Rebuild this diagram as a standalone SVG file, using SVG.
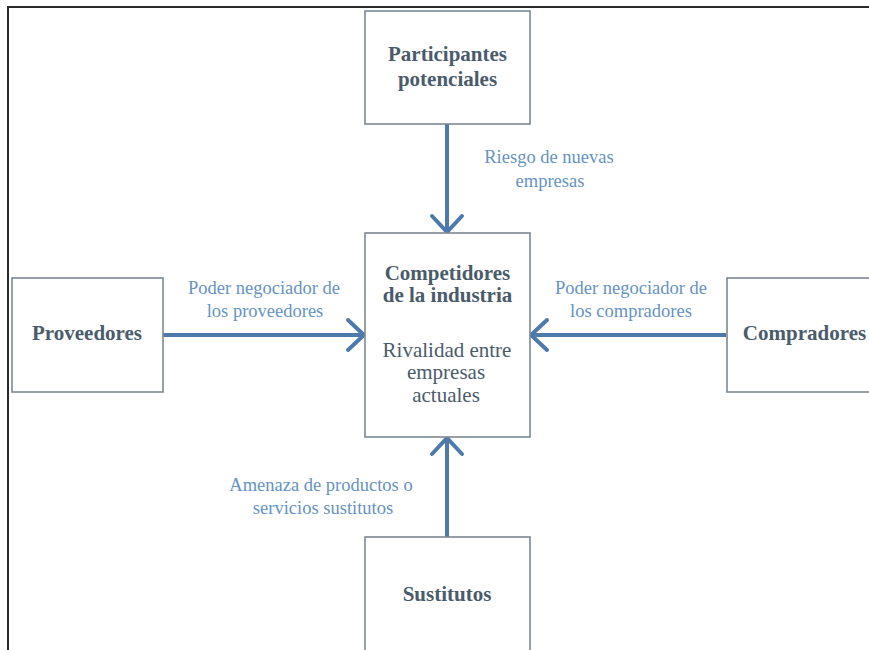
<svg xmlns="http://www.w3.org/2000/svg" width="869" height="650" viewBox="0 0 869 650">
  <style>
    .box { fill: #ffffff; stroke: #7d8894; stroke-width: 1.6; }
    .name { font-family: "Liberation Serif", "Times New Roman", serif; font-size: 21px; font-weight: bold; fill: #4a5b6c; text-anchor: middle; }
    .body { font-family: "Liberation Serif", "Times New Roman", serif; font-size: 21px; fill: #4a5b6c; text-anchor: middle; }
    .label { font-family: "Liberation Serif", "Times New Roman", serif; font-size: 18.5px; fill: #6593c4; text-anchor: middle; }
    .link { stroke: #4d7aab; stroke-width: 4; fill: none; }
    .head { stroke: #4d7aab; stroke-width: 4; fill: none; stroke-linecap: round; stroke-linejoin: miter; }
  </style>

  <rect width="869" height="650" fill="#ffffff"/>
  <!-- page frame -->
  <rect x="8" y="7" width="900" height="700" fill="none" stroke="#2a2a2a" stroke-width="2"/>

  <g id="connectors">
    <!-- Participantes potenciales -> Competidores -->
    <line class="link" x1="447" y1="124" x2="447" y2="230"/>
    <polyline class="head" points="432,216 447,232 462,216"/>
    <!-- Proveedores -> Competidores -->
    <line class="link" x1="163" y1="335" x2="363" y2="335"/>
    <polyline class="head" points="348,320 364,335 348,350"/>
    <!-- Compradores -> Competidores -->
    <line class="link" x1="726" y1="335" x2="532" y2="335"/>
    <polyline class="head" points="547,320 531,335 547,350"/>
    <!-- Sustitutos -> Competidores -->
    <line class="link" x1="447" y1="537" x2="447" y2="440"/>
    <polyline class="head" points="432,454 447,438 462,454"/>

    <text class="label" x="549" y="163">Riesgo de nuevas</text>
    <text class="label" x="550" y="187">empresas</text>

    <text class="label" x="264" y="294">Poder negociador de</text>
    <text class="label" x="265" y="317">los proveedores</text>

    <text class="label" x="631" y="294">Poder negociador de</text>
    <text class="label" x="631" y="317">los compradores</text>

    <text class="label" x="321" y="491">Amenaza de productos o</text>
    <text class="label" x="323" y="514">servicios sustitutos</text>
  </g>

  <g id="participantes">
    <rect class="box" x="365" y="11" width="165" height="113"/>
    <text class="name" x="447.5" y="61">Participantes</text>
    <text class="name" x="447.5" y="86">potenciales</text>
  </g>

  <g id="competidores">
    <rect class="box" x="365" y="233" width="165" height="204"/>
    <text class="name" x="447.5" y="280">Competidores</text>
    <text class="name" x="447.5" y="302">de la industria</text>
    <text class="body" x="447" y="357">Rivalidad entre</text>
    <text class="body" x="446" y="379">empresas</text>
    <text class="body" x="446" y="402">actuales</text>
  </g>

  <g id="proveedores">
    <rect class="box" x="12" y="278" width="151" height="114"/>
    <text class="name" x="87" y="340">Proveedores</text>
  </g>

  <g id="compradores">
    <rect class="box" x="727" y="278" width="160" height="114"/>
    <text class="name" x="804.5" y="340">Compradores</text>
  </g>

  <g id="sustitutos">
    <rect class="box" x="365" y="537" width="165" height="130"/>
    <text class="name" x="447" y="601">Sustitutos</text>
  </g>
</svg>
